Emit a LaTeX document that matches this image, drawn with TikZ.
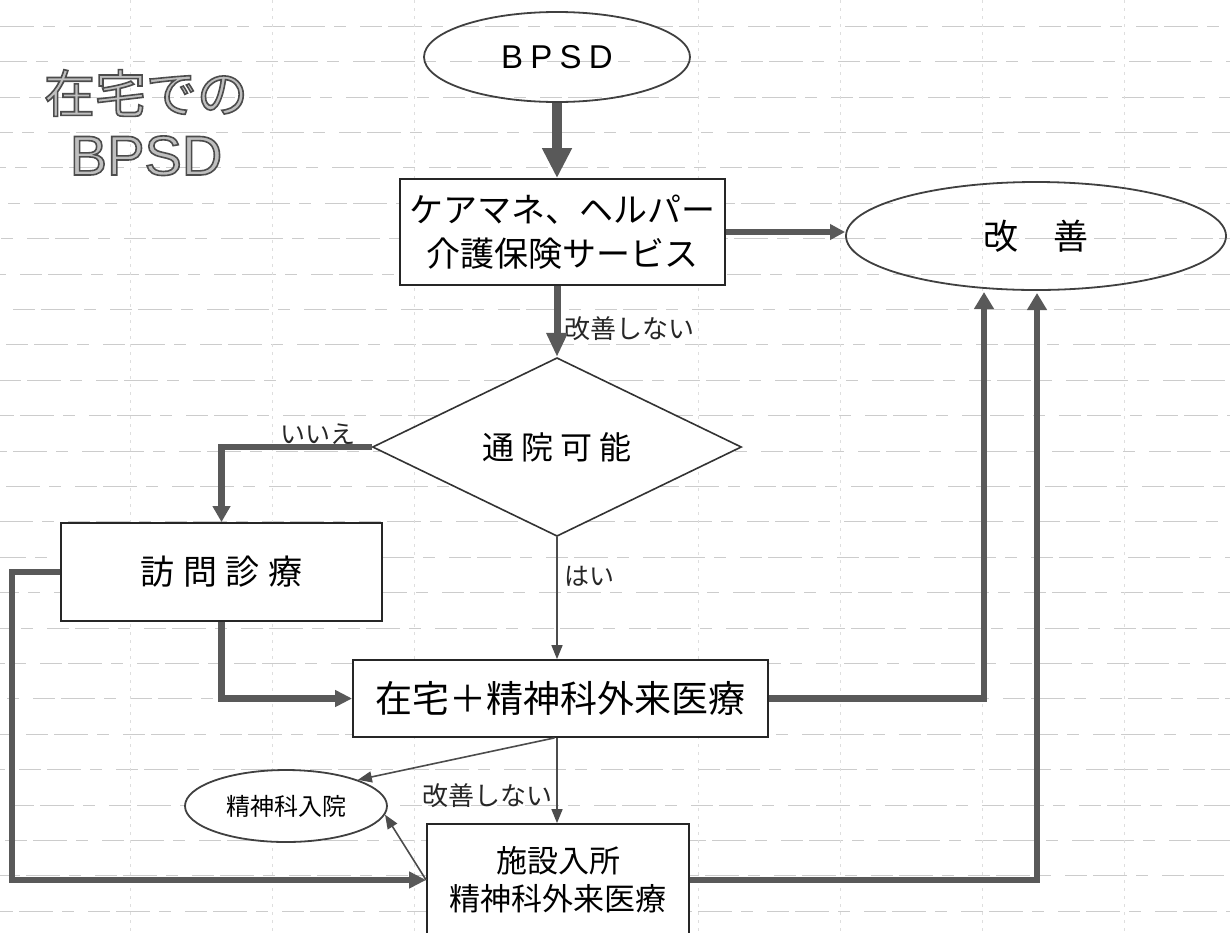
\documentclass[tikz,border=0pt]{standalone}
\usepackage{fontspec}
\usetikzlibrary{arrows.meta,shapes.geometric,calc}
\newfontfamily\jp{Noto Sans CJK JP}
\newfontfamily\jpwideA{Noto Sans CJK JP}[LetterSpace=26]
\newfontfamily\jpwideB{Noto Sans CJK JP}[LetterSpace=22]
\newfontfamily\lat{Liberation Sans}
\newfontfamily\latwide{Liberation Sans}[LetterSpace=22]
\newcommand{\outlinetxt}[1]{\special{pdf:literal direct 2 Tr 1.6 w 0.3 G}#1\special{pdf:literal direct 0 Tr}}
\begin{document}
\begin{tikzpicture}[x=1pt,y=-1pt,
  gridh/.style={draw=black!20, line width=0.8pt, dash pattern=on 34pt off 9pt on 12pt off 14pt on 22pt off 6pt},
  gridv/.style={draw=black!13, line width=0.7pt, dash pattern=on 3pt off 5pt},
  box/.style={draw=black!85, line width=1.8pt, fill=white, inner sep=2pt},
  ell/.style={ellipse, draw=black!75, line width=1.8pt, inner sep=2pt},
  lbl/.style={font=\jp\fontsize{25}{25}\selectfont, inner sep=1pt, text=black!85},
  heavy/.style={draw=black!65, line width=6.5pt, -{Triangle[width=18pt,length=18pt]}},
  thinarrow/.style={draw=black!70, line width=1.6pt, -{Triangle[width=11pt,length=14pt]}}]
\clip (0,0) rectangle (1230,932);
\fill[white] (0,0) rectangle (1230,932);
% faint spreadsheet grid
\foreach \k in {0,...,26} \draw[gridh, dash phase={7*\k}] (0,{26.2+35.4*\k}) -- (1230,{26.2+35.4*\k});
\foreach \x in {130,272,414,698,840,982,1124} \draw[gridv] (\x,0) -- (\x,932);
% title
\node[font=\jp\fontsize{51}{51}\selectfont, text=black!25, inner sep=0pt] (title1) at (146,93) {\outlinetxt{在宅での}};
\node[font=\lat\fontsize{56}{56}\selectfont, text=black!25, inner sep=0pt, anchor=base] (title2) at (146,175) {\outlinetxt{BPSD}};
% nodes
\node[ell, minimum width=266pt, minimum height=90pt] (bpsd) at (557,57) {\latwide\fontsize{33}{33}\selectfont BPSD};
\node[box, minimum width=325pt, minimum height=106pt, font=\jp\fontsize{34}{44}\selectfont, align=center] (care) at (562.5,232) {ケアマネ、ヘルパー\\介護保険サービス};
\node[ell, minimum width=380pt, minimum height=108pt, font=\jp\fontsize{35}{35}\selectfont] (kaizen) at (1036,236) {改　善};
\node[diamond, draw=black!80, line width=1.6pt, fill=white, minimum width=369pt, minimum height=177pt, inner sep=0pt, font=\jpwideB\fontsize{32}{32}\selectfont] (tsuin) at (557,447) {通院可能};
\node[box, minimum width=321pt, minimum height=98pt, font=\jpwideA\fontsize{34}{34}\selectfont] (houmon) at (221.5,572) {訪問診療};
\node[box, minimum width=415pt, minimum height=77pt, font=\jp\fontsize{37}{37}\selectfont] (zaitaku) at (560.5,698.5) {在宅＋精神科外来医療};
\node[box, minimum width=262pt, minimum height=112pt, font=\jp\fontsize{31}{38}\selectfont, align=center] (shisetsu) at (558,880) {施設入所\\精神科外来医療};
\node[ell, fill=white, minimum width=202pt, minimum height=72pt, font=\jp\fontsize{24}{24}\selectfont] (nyuin) at (286,806) {精神科入院};
% labels
\node[lbl, anchor=west, font=\jp\fontsize{26}{26}\selectfont] (l1) at (563,329) {改善しない};
\node[lbl] (l2) at (318,434) {いいえ};
\node[lbl, anchor=west] (l3) at (563,576) {はい};
\node[lbl, anchor=east, font=\jp\fontsize{26}{26}\selectfont] (l4) at (554,796) {改善しない};
% free ends
\coordinate (leftc) at (12,880);
\coordinate (k1) at (984,292);
\coordinate (k2) at (1037,293);
% connectors
\draw[heavy, line width=10pt, -{Triangle[width=28pt,length=30pt]}] (bpsd.south) -- (bpsd.south |- care.north);
\draw[heavy, line width=7pt, -{Triangle[width=20pt,length=24pt]}] (care.south -| tsuin.north) -- (tsuin.north);
\draw[heavy, line width=6pt, -{Triangle[width=15pt,length=15pt]}] (care.east) -- (care.east -| kaizen.west);
\draw[heavy, -{Triangle[width=17pt,length=16pt]}] (tsuin.west) -| (houmon.north);
\draw[thinarrow] (tsuin.south) -- (tsuin.south |- zaitaku.north);
\draw[heavy, -{Triangle[width=16pt,length=17pt]}] (houmon.south) |- (zaitaku.west);
\draw[heavy, -{Triangle[width=16pt,length=17pt]}] (houmon.west) -| (leftc) -- (shisetsu.west);
\draw[heavy, -{Triangle[width=19pt,length=17pt]}] (zaitaku.east) -| (k1);
\draw[heavy, -{Triangle[width=19pt,length=17pt]}] (shisetsu.east) -| (k2);
\draw[thinarrow] ([xshift=-6pt]zaitaku.south) -- (nyuin.20);
\draw[thinarrow] (zaitaku.south -| tsuin.south) -- (tsuin.south |- shisetsu.north);
\draw[thinarrow] (shisetsu.west) -- (nyuin.-5);
\end{tikzpicture}
\end{document}
